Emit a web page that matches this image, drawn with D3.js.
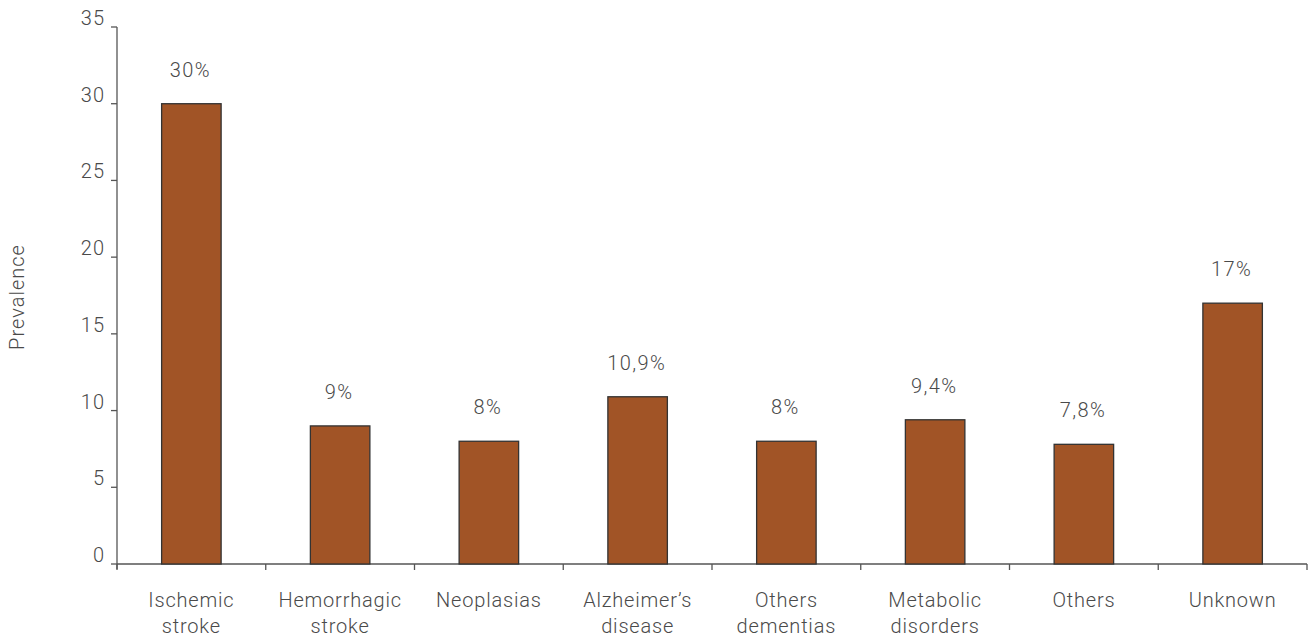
<!DOCTYPE html>
<html>
<head>
<meta charset="utf-8">
<script src="https://cdn.jsdelivr.net/npm/d3@7"></script>
<style>
  html, body { margin: 0; padding: 0; background: #fff; }
  text { font-family: Roboto, "Noto Sans", sans-serif; font-weight: 300; fill: #4a4a4a; }
</style>
</head>
<body>
<svg id="chart" width="1311" height="637"></svg>
<script>
const categories = [["Ischemic", "stroke"], ["Hemorrhagic", "stroke"], ["Neoplasias"], ["Alzheimer’s", "disease"], ["Others", "dementias"], ["Metabolic", "disorders"], ["Others"], ["Unknown"]];
const values = [30, 9, 8, 10.9, 8, 9.4, 7.8, 17];
const valueLabels = ["30%", "9%", "8%", "10,9%", "8%", "9,4%", "7,8%", "17%"];
const yTicks = [0, 5, 10, 15, 20, 25, 30, 35];
const yTitle = "Prevalence";

const svg = d3.select("#chart");
const margin = {left: 117, right: 4};
const W = 1311;
const ids = categories.map((d, i) => i);

const x = d3.scaleBand().domain(ids).range([margin.left, W - margin.right]).paddingInner(0.6).paddingOuter(0.3);
const xTicks = d3.scaleBand().domain(ids).range([margin.left, W - margin.right]);
const y = d3.scaleLinear().domain([0, 35]).range([564, 27]);

const axisColor = "#555";

// y axis
svg.append("line").attr("x1", margin.left).attr("x2", margin.left)
  .attr("y1", y(35)).attr("y2", y(0) + 5).attr("stroke", axisColor).attr("stroke-width", 1.3);
const yt = svg.append("g");
yTicks.forEach(t => {
  yt.append("line").attr("x1", margin.left - 6).attr("x2", margin.left).attr("y1", y(t)).attr("y2", y(t))
    .attr("stroke", axisColor).attr("stroke-width", 1.3);
  yt.append("text").attr("x", margin.left - 12).attr("y", y(t) - 2).attr("text-anchor", "end")
    .style("font-size", "20px").style("letter-spacing", "1px").text(t);
});

// x axis
svg.append("line").attr("x1", margin.left).attr("x2", W - margin.right)
  .attr("y1", y(0)).attr("y2", y(0)).attr("stroke", axisColor).attr("stroke-width", 1.3);
const bounds = ids.map(i => xTicks(i)).concat([xTicks(ids[ids.length - 1]) + xTicks.bandwidth()]);
bounds.forEach(b => {
  svg.append("line").attr("x1", b).attr("x2", b).attr("y1", y(0)).attr("y2", y(0) + 6)
    .attr("stroke", axisColor).attr("stroke-width", 1.3);
});

// bars
svg.append("g").selectAll("rect").data(values).join("rect")
  .attr("x", (d, i) => x(i)).attr("width", x.bandwidth())
  .attr("y", d => y(d)).attr("height", d => y(0) - y(d))
  .attr("fill", "#a15426").attr("stroke", "#333").attr("stroke-width", 1.3);

// value labels
svg.append("g").selectAll("text").data(values).join("text")
  .attr("x", (d, i) => x(i) + x.bandwidth() / 2 - 1).attr("y", d => y(d) - 27)
  .attr("text-anchor", "middle").style("font-size", "20px").style("letter-spacing", "1.4px")
  .text((d, i) => valueLabels[i]);

// category labels
const cl = svg.append("g");
categories.forEach((lines, i) => {
  const cx = x(i) + x.bandwidth() / 2;
  const t = cl.append("text").attr("x", cx).attr("y", 607)
    .attr("text-anchor", "middle").style("font-size", "20px").style("letter-spacing", "0.8px");
  lines.forEach((l, k) => t.append("tspan").attr("x", cx).attr("dy", k === 0 ? 0 : 26).text(l));
});

// y title
svg.append("text").attr("transform", "translate(24,297) rotate(-90)")
  .attr("text-anchor", "middle").style("font-size", "20px").style("letter-spacing", "1px").text(yTitle);
</script>
</body>
</html>
